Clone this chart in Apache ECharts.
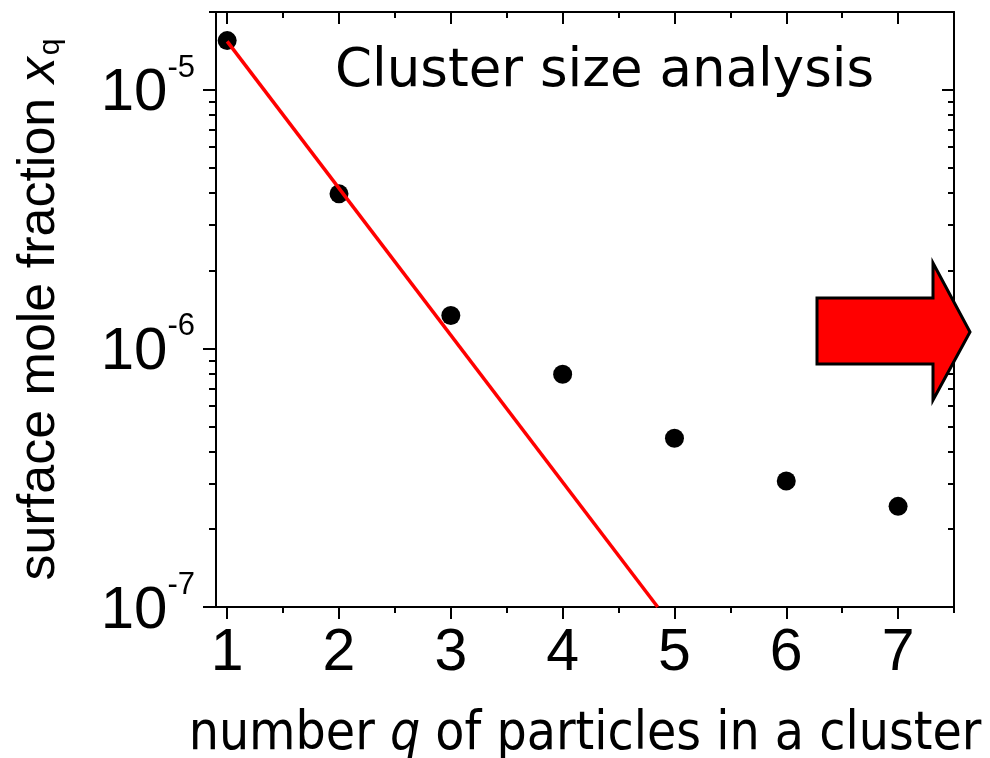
<!DOCTYPE html>
<html>
<head>
<meta charset="utf-8">
<script src="https://cdn.jsdelivr.net/npm/echarts@6/dist/echarts.min.js"></script>
<style>
  html, body { margin: 0; padding: 0; background: #fff; }
  #chart { width: 990px; height: 758px; }
</style>
</head>
<body>
<div id="chart"></div>
<script>
// Cluster size distribution: surface mole fraction of q-particle clusters
const clusterSizes = [1, 2, 3, 4, 5, 6, 7];
const moleFractions = [1.55e-5, 3.96e-6, 1.34e-6, 7.95e-7, 4.49e-7, 3.07e-7, 2.45e-7];

// Exponential fit through the smallest clusters (straight on a log axis)
const fitSizes = [1, 4.85];
const fitFractions = [1.54e-5, 1.0e-7];

// Axis ticks and labels
const xMajorTicks = [1, 2, 3, 4, 5, 6, 7];
const xMinorTicks = [1.5, 2.5, 3.5, 4.5, 5.5, 6.5, 7.5];
const yMajorTicks = [1e-7, 1e-6, 1e-5];
const yTickExponents = ['-7', '-6', '-5'];
const yMinorTicks = [2e-7, 3e-7, 4e-7, 5e-7, 6e-7, 7e-7, 8e-7, 9e-7,
                     2e-6, 3e-6, 4e-6, 5e-6, 6e-6, 7e-6, 8e-6, 9e-6, 2e-5];

const X_MIN = 0.9, X_MAX = 7.5;
const Y_MIN = 1e-7, Y_MAX = 2e-5;

const SANS = '"Liberation Sans", Arial, sans-serif';
const CONDENSED = '"DejaVu Sans Condensed", "DejaVu Sans", sans-serif';
const lineStyle = { color: '#000', width: 2 };

function xAxisDef(position, ticks, len, inside, withLine, withLabels) {
  const ax = {
    type: 'value', position: position, min: X_MIN, max: X_MAX,
    axisLine: { show: withLine, onZero: false, lineStyle: lineStyle },
    axisTick: { show: true, customValues: ticks, length: len, inside: inside, lineStyle: lineStyle },
    axisLabel: { show: false },
    splitLine: { show: false }
  };
  if (withLabels) {
    ax.axisLabel = {
      show: true, customValues: xMajorTicks, margin: 17,
      color: '#000', fontFamily: SANS, fontSize: 59
    };
  }
  return ax;
}

function yAxisDef(position, ticks, len, inside, withLine, withLabels) {
  const ax = {
    type: 'log', logBase: 10, position: position, min: Y_MIN, max: Y_MAX,
    axisLine: { show: withLine, onZero: false, lineStyle: lineStyle },
    axisTick: { show: true, customValues: ticks, length: len, inside: inside, lineStyle: lineStyle },
    axisLabel: { show: false },
    splitLine: { show: false },
    minorTick: { show: false }
  };
  if (withLabels) {
    ax.axisLabel = {
      show: true, customValues: yMajorTicks, margin: 21,
      formatter: function (v) {
        let i = 0, best = Infinity;
        yMajorTicks.forEach(function (t, k) {
          const d = Math.abs(Math.log10(t) - Math.log10(v));
          if (d < best) { best = d; i = k; }
        });
        return '{b|10}{s|' + yTickExponents[i] + '}';
      },
      rich: {
        b: { fontFamily: SANS, fontSize: 60, lineHeight: 74, color: '#000', padding: [8, 0, 0, 0] },
        s: { fontFamily: SANS, fontSize: 31, lineHeight: 31, verticalAlign: 'top', color: '#000' }
      }
    };
  }
  return ax;
}

const xBottom = xAxisDef('bottom', xMajorTicks, 12, false, true, true);
xBottom.name = 'number {i|q} of particles in a cluster';
xBottom.nameLocation = 'middle';
xBottom.nameGap = 102;
xBottom.nameTextStyle = {
  color: '#000', fontFamily: CONDENSED, fontSize: 53,
  rich: {
    i: { color: '#000', fontFamily: CONDENSED, fontSize: 53, fontStyle: 'italic' }
  }
};

const yLeft = yAxisDef('left', yMajorTicks, 13, false, true, true);
yLeft.name = 'surface mole fraction {x|x}{q|q}';
yLeft.nameLocation = 'middle';
yLeft.nameRotate = 90;
yLeft.nameGap = 150;
yLeft.nameTextStyle = {
  color: '#000', fontFamily: SANS, fontSize: 52,
  rich: {
    x: { color: '#000', fontFamily: SANS, fontSize: 52, fontStyle: 'italic' },
    q: { color: '#000', fontFamily: SANS, fontSize: 30, verticalAlign: 'bottom', padding: [22, 0, 0, 2] }
  }
};

const option = {
  animation: false,
  backgroundColor: '#fff',
  title: {
    text: 'Cluster size analysis',
    left: 335, top: 46, padding: 0,
    textStyle: { color: '#000', fontFamily: '"DejaVu Sans", Verdana, sans-serif', fontSize: 53, fontWeight: 'normal' }
  },
  grid: { left: 216, right: 36, top: 12, bottom: 151, containLabel: false, outerBoundsMode: 'none' },
  xAxis: [
    xBottom,
    xAxisDef('bottom', xMinorTicks, 6, false, false, false),
    xAxisDef('top', xMajorTicks, 12, true, true, false),
    xAxisDef('top', xMinorTicks, 6, true, false, false)
  ],
  yAxis: [
    yLeft,
    yAxisDef('left', yMinorTicks, 7, false, false, false),
    yAxisDef('right', yMajorTicks, 12, true, true, false),
    yAxisDef('right', yMinorTicks, 6, true, false, false)
  ],
  series: [
    {
      type: 'scatter', xAxisIndex: 0, yAxisIndex: 0, z: 2,
      symbol: 'circle', symbolSize: 19,
      itemStyle: { color: '#000', opacity: 1 },
      data: clusterSizes.map(function (q, i) { return [q, moleFractions[i]]; })
    },
    {
      type: 'line', xAxisIndex: 0, yAxisIndex: 0, z: 3,
      showSymbol: false, symbol: 'none',
      lineStyle: { color: '#ff0000', width: 3.5 },
      data: fitSizes.map(function (q, i) { return [q, fitFractions[i]]; })
    }
  ],
  graphic: [
    {
      type: 'polygon', z: 10,
      shape: { points: [[817, 298], [933, 298], [933, 263], [970, 332], [933, 400], [933, 364], [817, 364]] },
      style: { fill: '#ff0000', stroke: '#000', lineWidth: 3, lineJoin: 'miter' }
    }
  ]
};

const chart = echarts.init(document.getElementById('chart'), null, { renderer: 'canvas' });
chart.setOption(option);
</script>
</body>
</html>
